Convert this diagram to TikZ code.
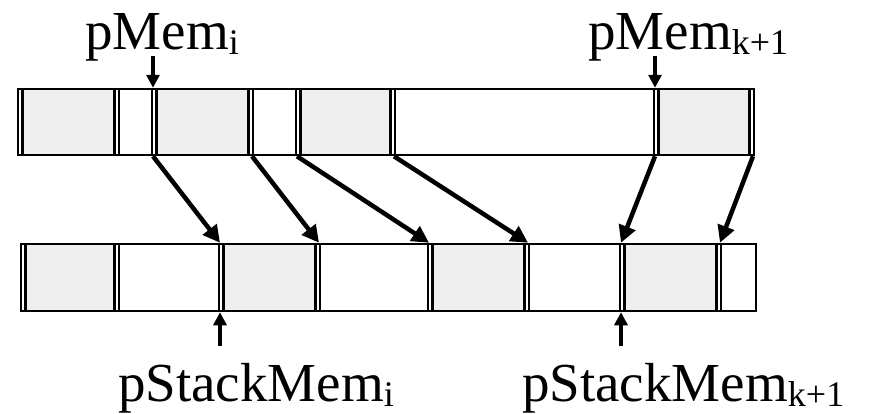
\documentclass[tikz,border=0pt]{standalone}
\usepackage{fontspec}
\setmainfont{Liberation Serif}
\usetikzlibrary{arrows.meta,calc}
\definecolor{cellgray}{HTML}{EFEFEF}
\newcommand\lsub[1]{\raisebox{-5pt}{\fontsize{36}{36}\selectfont #1}}
\tikzset{
  rowbox/.style={draw, line width=2.5pt, inner sep=0pt, minimum height=#1},
  cell/.style={draw, line width=2.5pt, inner sep=0pt, minimum height=#1,
    path picture={
      \fill[cellgray] ([xshift=4.5pt]path picture bounding box.north west)
        rectangle ([xshift=-4.5pt]path picture bounding box.south east);
      \draw[line width=2.5pt] ([xshift=4.5pt]path picture bounding box.north west)
        -- ([xshift=4.5pt]path picture bounding box.south west);
      \draw[line width=2.5pt] ([xshift=-4.5pt]path picture bounding box.north east)
        -- ([xshift=-4.5pt]path picture bounding box.south east);
    }},
  move/.style={line width=4.5pt, -{Triangle[length=17pt,width=17pt]}},
  ptr/.style={line width=3.5pt, -{Triangle[length=13pt,width=13pt]}},
  lbl/.style={inner sep=0pt, anchor=base west, font=\fontsize{55}{55}\selectfont},
}
\begin{document}
\begin{tikzpicture}[x=1pt,y=-1pt]
\useasboundingbox (0,0) rectangle (884,413);
\fill[white] (0,0) rectangle (884,413);

% heap memory (top row) and stack memory (bottom row)
\node[rowbox=66pt, minimum width=736pt] (heap) at (386,122) {};
\node[rowbox=67pt, minimum width=735pt] (stack) at (388.5,277.5) {};

% occupied blocks in the heap
\node[cell=66pt, minimum width=101pt] (t1) at (68.5,122) {};
\node[cell=66pt, minimum width=101pt] (t2) at (202.5,122) {};
\node[cell=66pt, minimum width=99pt]  (t3) at (345.5,122) {};
\node[cell=66pt, minimum width=100pt] (t4) at (704,122) {};

% copied blocks on the stack
\node[cell=67pt, minimum width=98pt]  (b1) at (70,277.5) {};
\node[cell=67pt, minimum width=101pt] (b2) at (269.5,277.5) {};
\node[cell=67pt, minimum width=101pt] (b3) at (478.5,277.5) {};
\node[cell=67pt, minimum width=101pt] (b4) at (670.5,277.5) {};

% block moves
\draw[move] ($(t2.south west)+(2.25,0)$) -- ($(b2.north west)+(2.25,0)$);
\draw[move] ($(t2.south east)+(-2.25,0)$) -- ($(b2.north east)+(-2.25,0)$);
\draw[move] ($(t3.south west)+(2.25,0)$) -- ($(b3.north west)+(2.25,0)$);
\draw[move] ($(t3.south east)+(-2.25,0)$) -- ($(b3.north east)+(-2.25,0)$);
\draw[move] ($(t4.south west)+(2.25,0)$) -- ($(b4.north west)+(2.25,0)$);
\draw[move] ($(t4.south east)+(-2.25,0)$) -- ($(b4.north east)+(-2.25,0)$);

% pointer labels
\node[lbl] (pmi) at (85,49) {pMem\lsub{i}};
\node[lbl] (pmk) at (588,49) {pMem\lsub{k+1}};
\node[lbl] (psi) at (118,401) {pStackMem\lsub{i}};
\node[lbl] (psk) at (522,401) {pStackMem\lsub{k+1}};

\coordinate (pmiT) at ($(t2.north west)+(2.25,-32)$);
\coordinate (pmkT) at ($(t4.north west)+(2.25,-32)$);
\coordinate (psiT) at ($(b2.south west)+(2.25,34)$);
\coordinate (pskT) at ($(b4.south west)+(2.25,34)$);
\draw[ptr] (pmiT) -- ($(t2.north west)+(2.25,0)$);
\draw[ptr] (pmkT) -- ($(t4.north west)+(2.25,0)$);
\draw[ptr] (psiT) -- ($(b2.south west)+(2.25,0)$);
\draw[ptr] (pskT) -- ($(b4.south west)+(2.25,0)$);
\end{tikzpicture}
\end{document}
